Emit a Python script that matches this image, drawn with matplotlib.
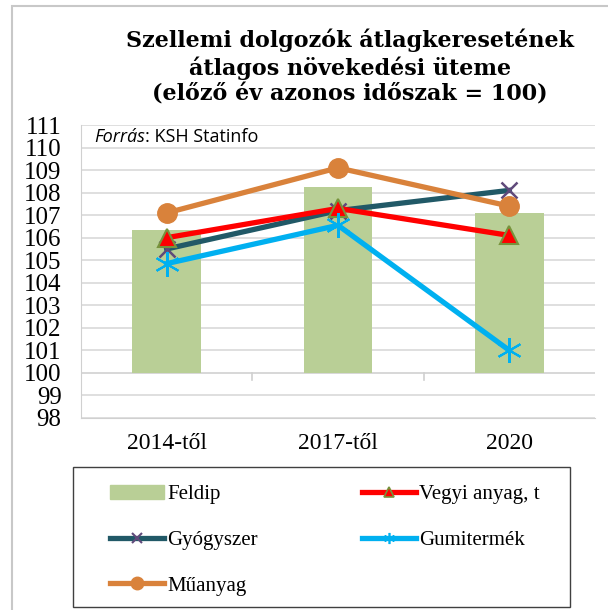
import matplotlib
matplotlib.use('Agg')
import matplotlib.pyplot as plt
from matplotlib.patches import Rectangle, Patch
from matplotlib.lines import Line2D

categories = ['2014-től', '2017-től', '2020']
feldip = [106.35, 108.25, 107.1]
vegyi = [106.0, 107.3, 106.1]
gyogyszer = [105.5, 107.2, 108.1]
gumi = [104.85, 106.55, 101.0]
muanyag = [107.1, 109.1, 107.4]
yticks = list(range(98, 112))

serif = 'Liberation Serif'
c_bar = '#b9cf96'
c_vegyi = '#ff0000'
c_gyogy = '#215967'
c_gumi = '#00b0f0'
c_mu = '#d9823b'

fig = plt.figure(figsize=(6.08, 6.10), dpi=100)
# keret
fig.patches.append(Rectangle((12 / 608, -0.01), 1.0, 1.0, transform=fig.transFigure,
                             fill=False, edgecolor='#c8c8c8', linewidth=1.5))

ax = fig.add_axes([81 / 608, 1 - 418 / 610, 514 / 608, 293 / 610])
x = list(range(len(categories)))

ax.bar(x, [v - 100 for v in feldip], bottom=100, width=0.4, color=c_bar, zorder=2)
ax.plot(x, vegyi, color=c_vegyi, lw=3.8, marker='^', ms=13, mfc=c_vegyi,
        mec='#77933c', mew=1.5, zorder=4)
ax.plot(x, gyogyszer, color=c_gyogy, lw=3.8, marker='x', ms=12, mec='#604a7b',
        mew=1.8, zorder=3)
ax.plot(x, gumi, color=c_gumi, lw=3.8, marker=(6, 2, 0), ms=18, mec=c_gumi,
        mew=1.5, zorder=5)
ax.plot(x, muanyag, color=c_mu, lw=3.8, marker='o', ms=14, zorder=3)

ax.set_xlim(-0.5, 2.5)
ax.set_ylim(98, 111)
ax.set_yticks(yticks)
ax.set_yticklabels([str(t) for t in yticks], fontfamily=serif, fontsize=18)
ax.set_xticks(x)
ax.set_xticklabels(categories, fontfamily=serif, fontsize=17)
ax.tick_params(axis='y', length=0, pad=14)
ax.tick_params(axis='x', length=0, pad=11)
ax.grid(axis='y', color='#d9d9d9', lw=1.2, zorder=0)
ax.axhline(100, color='#d0d0d0', lw=1.2, zorder=1)
for b in [0.5, 1.5]:
    ax.plot([b, b], [99.7, 100], color='#d0d0d0', lw=1.2, clip_on=False)
for s in ['top', 'right']:
    ax.spines[s].set_visible(False)
ax.spines['left'].set_color('#d0d0d0')
ax.spines['bottom'].set_color('#d0d0d0')

# forrás
t1 = fig.text(94 / 608, 1 - 137 / 610, 'Forrás', fontfamily='Open Sans',
              fontstyle='italic', fontsize=13, va='center')
ax.annotate(': KSH Statinfo', xy=(1, 0.5), xycoords=t1, va='center',
            fontfamily='Open Sans', fontsize=13)

fig.text(350 / 608, 1 - 67 / 610,
         'Szellemi dolgozók átlagkeresetének\nátlagos növekedési üteme\n(előző év azonos időszak = 100)',
         ha='center', va='center', fontfamily='DejaVu Serif', fontweight='bold',
         fontsize=16, linespacing=1.2)

# jelmagyarázat
fig.patches.append(Rectangle((73 / 608, 1 - 607 / 610), 497 / 608, 140 / 610,
                             transform=fig.transFigure, fill=False,
                             edgecolor='#404040', linewidth=1.0))
hb = Patch(color=c_bar)
hv = Line2D([], [], color=c_vegyi, lw=3.8, marker='^', ms=7, mfc=c_vegyi, mec='#77933c', mew=1.2)
hg = Line2D([], [], color=c_gyogy, lw=3.8, marker='x', ms=7, mec='#604a7b', mew=1.5)
hu = Line2D([], [], color=c_gumi, lw=3.8, marker=(6, 2, 0), ms=8, mec=c_gumi, mew=1.2)
hm = Line2D([], [], color=c_mu, lw=3.8, marker='o', ms=9)
leg = fig.legend([hb, hg, hm, hv, hu],
                 ['Feldip', 'Gyógyszer', 'Műanyag', 'Vegyi anyag, t', 'Gumitermék'],
                 loc='upper left', bbox_to_anchor=(110 / 608, 1 - 491 / 610, 430 / 608, 0.01),
                 mode='expand', ncol=2, prop={'family': serif, 'size': 15},
                 frameon=False, handlelength=2.6, handletextpad=0.15,
                 labelspacing=1.25, borderpad=0, borderaxespad=0)

fig.savefig('out.png', dpi=100)
